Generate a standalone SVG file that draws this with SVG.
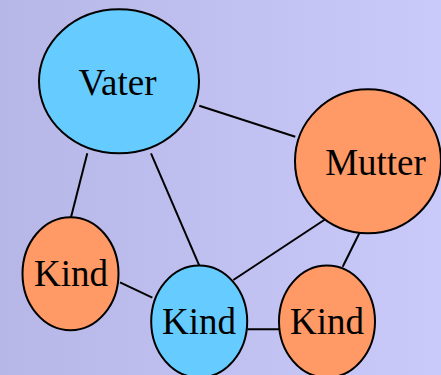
<svg xmlns="http://www.w3.org/2000/svg" width="441" height="375" viewBox="0 0 441 375">
  <defs>
    <linearGradient id="bg" x1="0" y1="0" x2="1" y2="0">
      <stop offset="0" stop-color="#b7b7e7"/>
      <stop offset="1" stop-color="#cacafa"/>
    </linearGradient>
    <style>
      .node { stroke: #000; stroke-width: 2; }
      .blue { fill: #66ccff; }
      .orange { fill: #ff9966; }
      .edge { stroke: #000; stroke-width: 2; fill: none; }
      text { font-family: "Liberation Serif", "Times New Roman", serif; font-size: 37px; fill: #000; text-anchor: middle; }
    </style>
  </defs>
  <rect x="0" y="0" width="441" height="375" fill="url(#bg)"/>
  <g id="connectors">
    <line class="edge" x1="199.3" y1="105.7" x2="295.3" y2="136.7"/>
    <line class="edge" x1="87.3" y1="153.3" x2="71" y2="217.3"/>
    <line class="edge" x1="151" y1="153.3" x2="199.3" y2="265.7"/>
    <line class="edge" x1="325.7" y1="219" x2="233.3" y2="280"/>
    <line class="edge" x1="359.3" y1="233.3" x2="342.7" y2="266.7"/>
    <line class="edge" x1="120" y1="282.3" x2="152.3" y2="297.7"/>
    <line class="edge" x1="247.3" y1="329.3" x2="279.3" y2="329.3"/>
  </g>
  <g id="vater">
    <ellipse class="node blue" cx="119" cy="81.3" rx="80" ry="72"/>
    <text x="117.5" y="94.5">Vater</text>
  </g>
  <g id="mutter">
    <ellipse class="node orange" cx="368" cy="161.3" rx="73" ry="72"/>
    <text x="375.5" y="175">Mutter</text>
  </g>
  <g id="kind-left">
    <ellipse class="node orange" cx="70.5" cy="273.7" rx="48" ry="56.5"/>
    <text x="71" y="286">Kind</text>
  </g>
  <g id="kind-center">
    <ellipse class="node blue" cx="199.2" cy="321.5" rx="48" ry="56"/>
    <text x="199" y="334">Kind</text>
  </g>
  <g id="kind-right">
    <ellipse class="node orange" cx="327" cy="321.5" rx="48" ry="56"/>
    <text x="327" y="334">Kind</text>
  </g>
</svg>
